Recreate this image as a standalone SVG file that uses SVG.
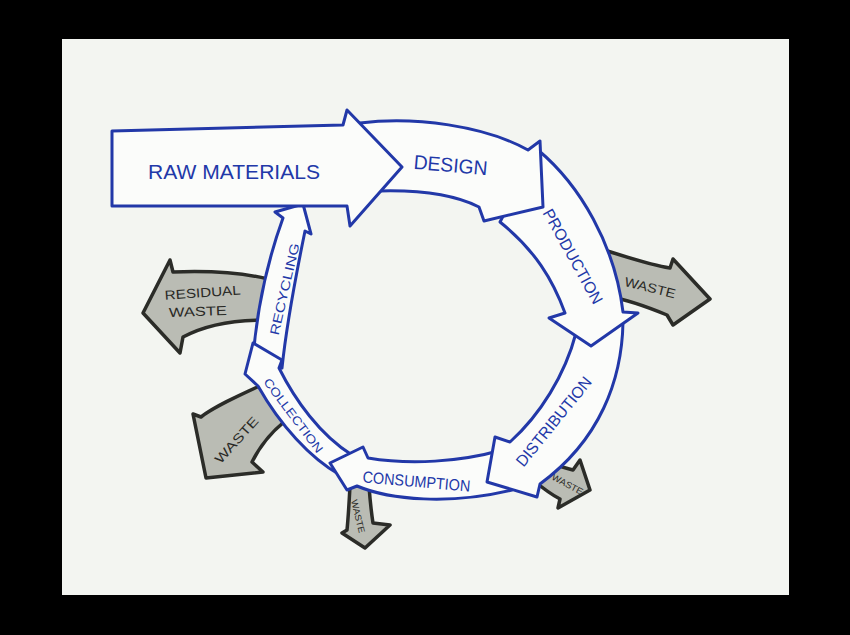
<svg xmlns="http://www.w3.org/2000/svg" width="850" height="635" viewBox="0 0 850 635">
<defs>
<style>
.band{fill:#fbfcfa;stroke:#2238a8;stroke-width:3;stroke-linejoin:round}
.waste{fill:#babcb4;stroke:#2b2c28;stroke-width:3.5;stroke-linejoin:round}
.bl{font-family:"Liberation Sans","DejaVu Sans",sans-serif;fill:#2238a8;text-anchor:middle}
.wl{font-family:"Liberation Sans","DejaVu Sans",sans-serif;fill:#2a2a26;text-anchor:middle}
</style>
</defs>
<rect x="0" y="0" width="850" height="635" fill="#000"/>
<rect x="62" y="39" width="727" height="556" fill="#f3f5f1"/>

<g id="connectors">
<g id="waste-production">
<path class="waste" d="M598,248 C620,255 650,265 670,268 L673,259 L710,299 L673,325 L667,315 C650,308 630,300 610,297 Z"/>
<text class="wl" font-size="13" transform="translate(649,292) rotate(14)" textLength="52" lengthAdjust="spacingAndGlyphs">WASTE</text>
</g>
<g id="waste-residual">
<path class="waste" d="M268,279 C240,272 200,271 173,272 L170,260 L143,313 L180,353 L183,337 C205,325 230,320 265,320 Z"/>
<text class="wl" font-size="13" transform="translate(203,297) rotate(-4)" textLength="76" lengthAdjust="spacingAndGlyphs">RESIDUAL</text>
<text class="wl" font-size="13" transform="translate(198,316) rotate(-2)" textLength="58" lengthAdjust="spacingAndGlyphs">WASTE</text>
</g>
<g id="waste-collection">
<path class="waste" d="M264,384 C240,395 215,406 201,417 L193,414 L206,478 L263,472 L252,462 C258,450 268,435 284,422 Z"/>
<text class="wl" font-size="13" transform="translate(240,443) rotate(-48)" textLength="58" lengthAdjust="spacingAndGlyphs">WASTE</text>
</g>
<g id="waste-consumption">
<path class="waste" d="M350,486 C349,505 348,520 347,530 L342,533 L365,548 L390,525 L373,523 C371,510 370,500 369,486 Z"/>
<text class="wl" font-size="9" transform="translate(355,517) rotate(76)" textLength="34" lengthAdjust="spacingAndGlyphs">WASTE</text>
</g>
<g id="waste-distribution">
<path class="waste" d="M550,462 C557,466 565,468 573,470 L580,460 L590,490 L558,508 L560,499 C552,495 545,490 533,480 Z"/>
<text class="wl" font-size="9" transform="translate(566,487) rotate(28)" textLength="34" lengthAdjust="spacingAndGlyphs">WASTE</text>
</g>
</g>

<g id="recycling">
<path class="band" d="M252,372 C255,320 266,265 283,218 L275,212 L303,204 L311,234 L305,231 C297,270 287,320 282,368 Z"/>
<text class="bl" font-size="13" transform="translate(289,290) rotate(-77)" textLength="94" lengthAdjust="spacingAndGlyphs">RECYCLING</text>
</g>
<g id="collection">
<path class="band" d="M340,475 C310,458 280,425 258,386 L245,374 L253,343 L282,360 L279,368 C295,400 320,435 352,455 Z"/>
<text class="bl" font-size="12" transform="translate(290,418) rotate(53)" textLength="90" lengthAdjust="spacingAndGlyphs">COLLECTION</text>
</g>
<g id="consumption">
<path class="band" d="M502,450 C460,462 410,465 368,458 L363,447 L330,463 L347,490 L357,486 C390,500 450,505 512,490 Z"/>
<text class="bl" font-size="16" transform="translate(416,487) rotate(5)" textLength="108" lengthAdjust="spacingAndGlyphs">CONSUMPTION</text>
</g>
<g id="distribution">
<path class="band" d="M578,328 L623,322 C622,380 600,440 540,484 L537,497 L487,482 L495,437 L510,442 C540,415 565,375 576,333 Z"/>
<text class="bl" font-size="16" transform="translate(558,425) rotate(-51)" textLength="110" lengthAdjust="spacingAndGlyphs">DISTRIBUTION</text>
</g>
<g id="production">
<path class="band" d="M538,150 C580,185 615,245 623,312 L638,313 L591,346 L549,318 L565,313 C553,280 535,250 500,222 Z"/>
<text class="bl" font-size="16" transform="translate(568,259) rotate(61)" textLength="106" lengthAdjust="spacingAndGlyphs">PRODUCTION</text>
</g>
<g id="design">
<path class="band" d="M360,123 C415,116 485,126 528,150 L540,141 L543,207 L484,221 L479,207 C455,195 420,190 380,191 Z"/>
<text class="bl" font-size="20" transform="translate(450,172) rotate(5)" textLength="74" lengthAdjust="spacingAndGlyphs">DESIGN</text>
</g>
<g id="raw-materials">
<path class="band" d="M112,131 L343,125 L347,110 L402,167 L350,226 L347,206 L112,206 Z"/>
<text class="bl" font-size="21" transform="translate(234,179)" textLength="172" lengthAdjust="spacingAndGlyphs">RAW MATERIALS</text>
</g>
</svg>
